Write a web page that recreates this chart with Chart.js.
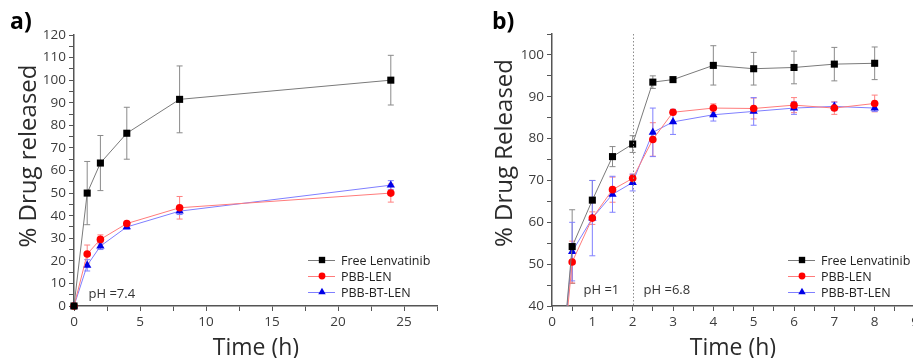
<!DOCTYPE html>
<html><head><meta charset="utf-8">
<script src="https://cdn.jsdelivr.net/npm/chart.js@4"></script>
<style>
html,body{margin:0;padding:0;width:913px;height:358px;overflow:hidden;background:#fff;position:relative;font-family:"Open Sans",sans-serif;}
#ca{position:absolute;left:0;top:0;}
#cb{position:absolute;left:460px;top:0;}
.t{position:absolute;white-space:nowrap;line-height:1;color:#2b2b2b;}
.yt{font-size:24px;transform:translate(-50%,-50%) rotate(-90deg);}
.xt{font-size:23px;transform:translateX(-50%);}
.pl{font-size:23px;font-weight:bold;color:#000;}
</style></head>
<body>
<canvas id="ca" width="460" height="358"></canvas>
<canvas id="cb" width="470" height="358"></canvas>
<div class="t pl" style="left:10px;top:9px;">a)</div>
<div class="t pl" style="left:492px;top:9px;">b)</div>
<div class="t yt" style="left:27px;top:156px;">% Drug released</div>
<div class="t yt" style="left:503px;top:153px;">% Drug Released</div>
<div class="t xt" style="left:256px;top:335px;">Time (h)</div>
<div class="t xt" style="left:733px;top:335px;">Time (h)</div>
<script>
// ---- data panel a (pH 7.4) ----
const timeA = [0, 1, 2, 4, 8, 24];
const freeA = [0, 50, 63.3, 76.5, 91.5, 100];
const freeAErr = [0, 14, 12.2, 11.5, 14.8, 11];
const lenA = [0, 23, 29.5, 36.5, 43.5, 50];
const lenAErr = [0, 4, 2, 1, 5, 4];
const btA = [0, 18, 26.5, 35, 42, 53.5];
const btAErr = [0, 2.5, 1.5, 1, 1.5, 2];
// ---- data panel b (pH 1 -> 6.8) ----
const timeB = [0, 0.5, 1, 1.5, 2, 2.5, 3, 4, 5, 6, 7, 8];
const freeB = [0, 54.2, 65.3, 75.7, 78.7, 93.5, 94.1, 97.5, 96.7, 97, 97.8, 98];
const freeBErr = [0, 8.8, 4.7, 2.4, 2, 1.5, 0.5, 4.7, 3.9, 3.9, 4, 3.9];
const lenB = [0, 50.5, 61, 67.8, 70.5, 79.8, 86.3, 87.3, 87.2, 88, 87.3, 88.4];
const lenBErr = [0, 5, 1.5, 3, 1, 4, 0.5, 1, 2.5, 1.8, 1.5, 2];
const btB = [0, 53, 61, 66.7, 69.5, 81.5, 84, 85.7, 86.5, 87.3, 87.7, 87.3];
const btBErr = [0, 7, 9, 4.3, 2, 5.8, 3, 1.5, 3.3, 1.5, 1, 0.8];
const seriesNames = ['Free Lenvatinib', 'PBB-LEN', 'PBB-BT-LEN'];

const styles = [
  {line:'#7a7a7a', mark:'#000000', err:'#8a8a8a', shape:'rect', r:5},
  {line:'#ff7b7b', mark:'#ff0000', err:'#ff8080', shape:'circle', r:3.8},
  {line:'#7f7fff', mark:'#0000e6', err:'#8080ff', shape:'triangle', r:4.8}
];

function pts(t, v){ return t.map((x,i)=>({x:x, y:v[i]})); }
function mkDs(i, t, v, e){
  const s = styles[i];
  return {label: seriesNames[i], data: pts(t, v), errors: e, errorColor: s.err,
    borderColor: s.line, borderWidth: 1, backgroundColor: s.mark,
    pointBackgroundColor: s.mark, pointBorderColor: s.mark, pointBorderWidth: 0,
    pointStyle: s.shape, pointRadius: s.r, pointHoverRadius: s.r, tension: 0};
}

function drawMarker(ctx, shape, x, y, r, color){
  ctx.fillStyle = color; ctx.beginPath();
  if (shape === 'rect'){ const h = r*Math.SQRT1_2; ctx.rect(x-h, y-h, 2*h, 2*h); }
  else if (shape === 'circle'){ ctx.arc(x, y, r, 0, Math.PI*2); }
  else { ctx.moveTo(x, y - r); ctx.lineTo(x + r*0.866, y + r*0.5); ctx.lineTo(x - r*0.866, y + r*0.5); ctx.closePath(); }
  ctx.fill();
}

const errorBars = {
  id: 'errorBars',
  beforeDatasetsDraw(chart){
    const ctx = chart.ctx, xs = chart.scales.x, ys = chart.scales.y, a = chart.chartArea;
    ctx.save(); ctx.beginPath(); ctx.rect(a.left-8, a.top-8, a.width+16, a.height+8); ctx.clip();
    chart.data.datasets.forEach(ds => {
      if (!ds.errors) return;
      ctx.strokeStyle = ds.errorColor; ctx.lineWidth = 1;
      ds.data.forEach((p, i) => {
        const e = ds.errors[i]; if (!e) return;
        const px = xs.getPixelForValue(p.x), y1 = ys.getPixelForValue(p.y + e), y2 = ys.getPixelForValue(p.y - e);
        ctx.beginPath();
        ctx.moveTo(px, y1); ctx.lineTo(px, y2);
        ctx.moveTo(px-3, y1); ctx.lineTo(px+3, y1);
        ctx.moveTo(px-3, y2); ctx.lineTo(px+3, y2);
        ctx.stroke();
      });
    });
    ctx.restore();
  }
};

const extras = {
  id: 'extras',
  afterDatasetsDraw(chart, args, o){
    const ctx = chart.ctx, xs = chart.scales.x, ys = chart.scales.y, a = chart.chartArea;
    ctx.save();
    if (o.vline !== undefined){
      const px = Math.round(xs.getPixelForValue(o.vline)) + 0.5;
      ctx.strokeStyle = '#8c8c8c'; ctx.lineWidth = 1; ctx.setLineDash([1.5, 2]);
      ctx.beginPath(); ctx.moveTo(px, a.top); ctx.lineTo(px, a.bottom); ctx.stroke();
      ctx.setLineDash([]);
    }
    ctx.font = '13px "Open Sans"'; ctx.fillStyle = '#333'; ctx.textBaseline = 'middle'; ctx.textAlign = 'left';
    (o.texts || []).forEach(t => ctx.fillText(t.text, xs.getPixelForValue(t.x), ys.getPixelForValue(t.y)));
    // legend
    const L = o.legend;
    ctx.font = '12.5px "Open Sans"'; ctx.fillStyle = '#222';
    chart.data.datasets.forEach((ds, i) => {
      const s = styles[i], y = L.y + i*16;
      ctx.strokeStyle = s.line; ctx.lineWidth = 1;
      ctx.beginPath(); ctx.moveTo(L.x, y+0.5); ctx.lineTo(L.x+27, y+0.5); ctx.stroke();
      drawMarker(ctx, s.shape, L.x+14, y, s.r*0.9, s.mark);
      ctx.fillStyle = '#222';
      ctx.fillText(ds.label, L.x+33, y+1);
    });
    ctx.restore();
  }
};

const tickFont = {family: '"Open Sans"', size: 13.5};
function axis(min, max, step, major, size, horiz){
  return {
    type: 'linear', min: min, max: max,
    ticks: {stepSize: step, autoSkip: false, color: '#3c3c3c', font: tickFont, padding: 3, maxRotation: 0,
      callback: v => (Math.abs(v/major - Math.round(v/major)) < 1e-6) ? String(v) : ''},
    grid: {display: true, drawOnChartArea: false, tickLength: 5, color: '#555', lineWidth: 1},
    border: {display: true, color: '#555', width: 1.5},
    afterFit: s => { if (horiz) s.height = size; else s.width = size; }
  };
}

function makeChart(id, datasets, xax, yax, pad, ex, clip){
  return new Chart(document.getElementById(id), {
    type: 'line',
    data: {datasets: datasets.map(d => Object.assign(d, {clip: clip}))},
    options: {
      responsive: false, animation: false, events: [],
      layout: {padding: pad},
      plugins: {legend: {display: false}, tooltip: {enabled: false}, extras: ex},
      scales: {x: xax, y: yax}
    },
    plugins: [errorBars, extras]
  });
}

makeChart('ca',
  [mkDs(0, timeA, freeA, freeAErr), mkDs(1, timeA, lenA, lenAErr), mkDs(2, timeA, btA, btAErr)],
  axis(0, 27.5, 2.5, 5, 52, true),
  axis(0, 120, 5, 10, 74, false),
  {left: 0, top: 35, right: 23, bottom: 0},
  {texts: [{x: 1.1, y: 5, text: 'pH =7.4'}], legend: {x: 308, y: 260}},
  8);

makeChart('cb',
  [mkDs(0, timeB, freeB, freeBErr), mkDs(1, timeB, lenB, lenBErr), mkDs(2, timeB, btB, btBErr)],
  axis(0, 9, 0.5, 1, 52, true),
  axis(40, 105, 5, 10, 92, false),
  {left: 0, top: 34, right: 15, bottom: 0},
  {vline: 2, texts: [{x: 0.78, y: 43.8, text: 'pH =1'}, {x: 2.27, y: 43.8, text: 'pH =6.8'}], legend: {x: 328, y: 260}},
  {left: 8, top: 8, right: 8, bottom: 0});
</script>
</body></html>
